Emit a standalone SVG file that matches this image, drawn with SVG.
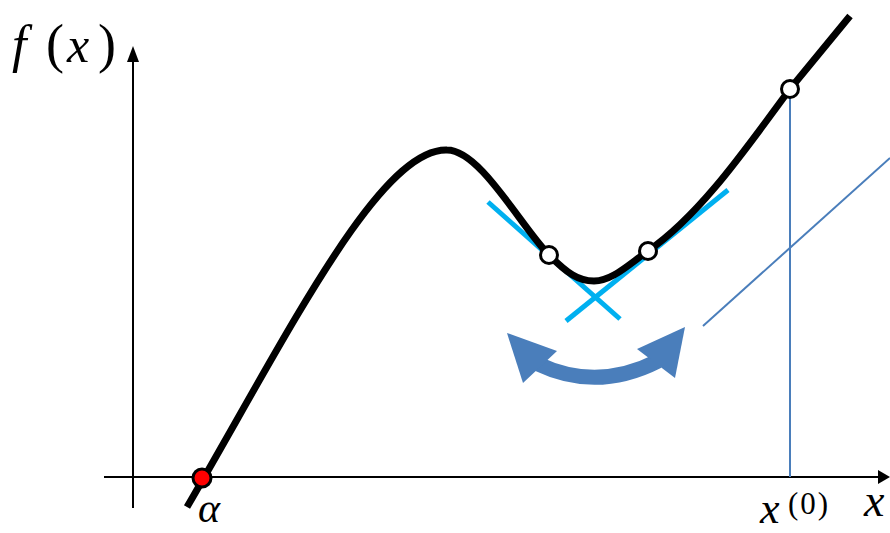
<svg xmlns="http://www.w3.org/2000/svg" width="890" height="533" viewBox="0 0 890 533">
<style>
.axis{stroke:#000;stroke-width:2;fill:none}
.thin{stroke:#4A7EBB;stroke-width:2;fill:none}
.tan{stroke:#00B0F0;stroke-width:5;fill:none}
.curve{stroke:#000;stroke-width:7;fill:none;stroke-linejoin:round}
.pt{fill:#fff;stroke:#000;stroke-width:3}
.lbl{font-family:"Liberation Serif",serif;fill:#000}
.it{font-style:italic}
</style>
<rect width="890" height="533" fill="#fff"/>
<g id="axes">
<line class="axis" x1="104" y1="477" x2="880" y2="477"/>
<polygon points="878,470 890,477 878,484" fill="#000"/>
<line class="axis" x1="133" y1="508" x2="133" y2="60"/>
<polygon points="127,62 133,46 139,62" fill="#000"/>
</g>
<g id="guides">
<line class="thin" x1="790" y1="89" x2="790" y2="477"/>
<line class="thin" x1="703" y1="326" x2="890" y2="158"/>
</g>
<g id="tangents">
<line class="tan" x1="488" y1="202" x2="620" y2="319"/>
<line class="tan" x1="566" y1="321" x2="728" y2="190"/>
</g>
<g id="curve">
<path class="curve" d="M187,507 C290,330 380,148 447,150 C480,150 520,225 549,255 C567,273 578,281 594,281 C612,281 628,265 648,251 C700,215 745,150 790,89 L850,16"/>
</g>
<g id="points">
<circle class="pt" cx="549" cy="255" r="8.5"/>
<circle class="pt" cx="648" cy="251" r="8.5"/>
<circle class="pt" cx="790" cy="89" r="8.5"/>
<circle cx="202" cy="478" r="9" fill="#f00" stroke="#000" stroke-width="3"/>
</g>
<g id="swing-arrow" fill="#4A7EBB">
<path d="M538,364 Q597,392 658,361" stroke="#4A7EBB" stroke-width="15" fill="none"/>
<polygon points="507,333 557,351 523,383"/>
<polygon points="685,327 675,378 637,349"/>
</g>
<g id="labels">
<text class="lbl it" x="12" y="62" font-size="52">f</text>
<text class="lbl" x="46" y="62" font-size="54">(</text>
<text class="lbl it" x="67" y="62" font-size="50">x</text>
<text class="lbl" x="98" y="62" font-size="54">)</text>
<text class="lbl it" x="198" y="522" font-size="42">α</text>
<text class="lbl it" x="760" y="523" font-size="44">x</text>
<text class="lbl" x="788" y="514" font-size="31" letter-spacing="2">(0)</text>
<text class="lbl it" x="864" y="516" font-size="46">x</text>
</g>
</svg>
